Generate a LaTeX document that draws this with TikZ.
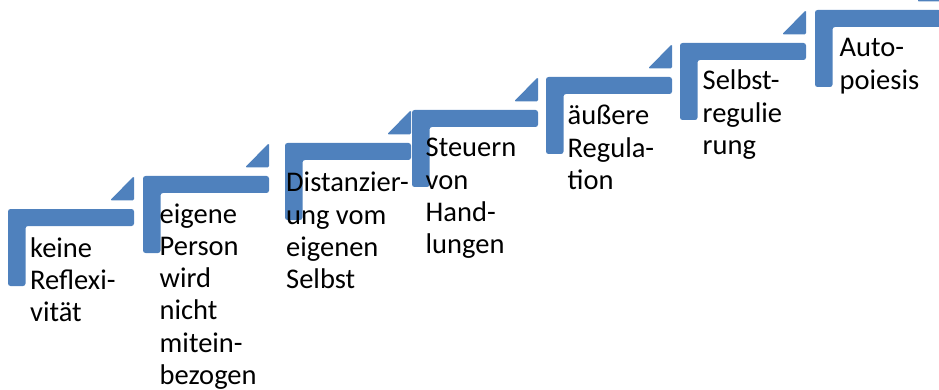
\documentclass[tikz,border=0pt]{standalone}
\usepackage{fontspec}
\setmainfont{Carlito}
\definecolor{stepblue}{HTML}{4F81BD}
\newcommand\stepfont{\fontsize{28.5}{32.3}\selectfont}
\newcommand\steplines[1]{\begin{tabular}[t]{@{}l@{}}#1\end{tabular}}
\begin{document}
\begin{tikzpicture}[x=1pt,y=-1pt,
  stepbar/.style={fill=stepblue, rounded corners=2.5pt},
  stepcue/.style={fill=stepblue, rounded corners=1.5pt},
  steptext/.style={anchor=base west, inner sep=0pt, font=\stepfont}]
\useasboundingbox (0,0) rectangle (939,390);

% the seven steps: an L-shaped bracket and a small corner wedge above it
\foreach \L/\T in {8/209, 143/176, 285/143, 412/110, 546/77, 680/43, 815/10}{
  \fill[stepbar] (\L,\T) -- ++(126,0) -- ++(0,17) -- ++(-108.5,0)
    -- ++(0,60) -- ++(-17.5,0) -- cycle;
  \fill[stepcue] (\L+102,\T-8.5) -- (\L+126,\T-8.5) -- (\L+126,\T-33) -- cycle;
}

% step labels
\node[steptext] (t1) at (30,257)    {\steplines{keine\\Reflexi-\\vität}};
\node[steptext] (t2) at (159.5,223) {\steplines{eigene\\Person\\wird\\nicht\\mitein-\\bezogen}};
\node[steptext] (t3) at (286,192)   {\steplines{Distanzier-\\ung vom\\eigenen\\Selbst}};
\node[steptext] (t4) at (425.5,157) {\steplines{Steuern\\von\\Hand-\\lungen}};
\node[steptext] (t5) at (567.5,125) {\steplines{äußere\\Regula-\\tion}};
\node[steptext] (t6) at (702.5,90)  {\steplines{Selbst-\\regulie\\rung}};
\node[steptext] (t7) at (839.5,57)  {\steplines{Auto-\\poiesis}};
\end{tikzpicture}
\end{document}
